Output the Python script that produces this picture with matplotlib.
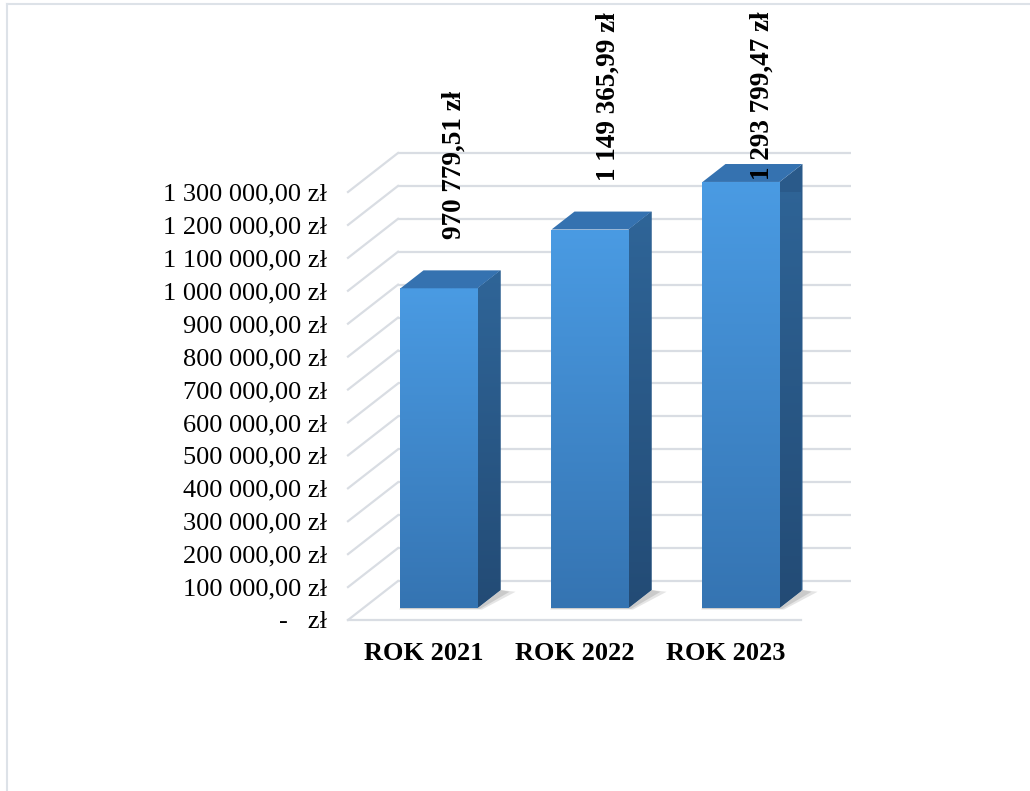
import matplotlib
matplotlib.use("Agg")
import matplotlib.pyplot as plt
import numpy as np
from matplotlib.patches import Polygon
from matplotlib.lines import Line2D
from matplotlib.colors import LinearSegmentedColormap

# ---- data ----
categories = ["ROK 2021", "ROK 2022", "ROK 2023"]
values = [970779.51, 1149365.99, 1293799.47]
y_ticks = list(range(0, 1300001, 100000))

# ---- style ----
W, H = 1030, 791
FONT = "Liberation Serif"
GRID = "#D9DDE3"
TOP_C = "#3572B0"
front_cmap = LinearSegmentedColormap.from_list("front", ["#3574B2", "#4A9BE3"])
side_cmap = LinearSegmentedColormap.from_list("side", ["#234B75", "#2F6598"])


def fmt_pl(v, dec=2):
    s = f"{v:,.{dec}f}"
    s = s.replace(",", " ").replace(".", ",")
    return s + " zł"


def tick_fmt(v, pos=None):
    if abs(v) < 1e-6:
        return "-   zł"
    return fmt_pl(v)


fig = plt.figure(figsize=(W / 100, H / 100), dpi=100)
fig.patch.set_facecolor("white")

# axes located on the front plane of the pseudo-3D chart (pixels)
px_left, px_right, px_bottom, px_top = 348, 801, 620, 192
ax = fig.add_axes([px_left / W, (H - px_bottom) / H,
                   (px_right - px_left) / W, (px_bottom - px_top) / H])
ncat = len(categories)
ymax = y_ticks[-1]
ax.set_xlim(0, ncat)
ax.set_ylim(0, ymax)
for s in ax.spines.values():
    s.set_visible(False)
ax.set_facecolor("none")

# depth vector in data units
px_per_x = (px_right - px_left) / ncat
px_per_y = (px_bottom - px_top) / ymax
DX = 50 / px_per_x
DY = 39 / px_per_y

# ---- walls / gridlines ----
for t in y_ticks:
    ax.plot([DX, ncat + DX], [t + DY, t + DY], color=GRID, lw=1.6,
            zorder=1, clip_on=False, solid_capstyle="butt")
    ax.plot([0, DX], [t, t + DY], color=GRID, lw=1.6, zorder=1,
            clip_on=False)
ax.plot([0, ncat], [0, 0], color=GRID, lw=1.6, zorder=1, clip_on=False)

# ---- bars ----
f1, f2 = 0.31, 0.77
bw = 0.51
ddx = (f2 - f1) * DX
ddy = (f2 - f1) * DY
xs = np.arange(ncat) + 0.5 + f1 * DX
base = f1 * DY

bars = ax.bar(xs, values, width=bw, bottom=base, color="#4189CF",
              zorder=3, clip_on=False, linewidth=0)

grad = np.linspace(0, 1, 256).reshape(-1, 1)
for b, x, v in zip(bars, xs, values):
    xl, xr = x - bw / 2, x + bw / 2
    top = base + v
    # soft shadow on the floor
    for k, a in [(1.0, 0.25), (0.6, 0.35)]:
        sh = Polygon([(xl - 0.01 * k, base - 5000 * k), (xr + 0.03 * k, base - 5000 * k),
                      (xr + ddx + 0.1 * k, base + ddy * 0.9),
                      (xr + ddx, base + ddy), (xr, base), (xl, base)],
                     closed=True, facecolor="#9A9A9A", edgecolor="none",
                     alpha=a, zorder=2, clip_on=False)
        ax.add_patch(sh)
    im = ax.imshow(grad, cmap=front_cmap, origin="lower", aspect="auto",
                   extent=(xl, xr, base, top), zorder=3.1)
    im.set_clip_path(b)
    side = Polygon([(xr, base), (xr + ddx, base + ddy),
                    (xr + ddx, top + ddy), (xr, top)], closed=True,
                   facecolor="#2A5A8A", edgecolor="none", zorder=3,
                   clip_on=False)
    ax.add_patch(side)
    ims = ax.imshow(grad, cmap=side_cmap, origin="lower", aspect="auto",
                    extent=(xr, xr + ddx, base, top + ddy), zorder=3.1)
    ims.set_clip_path(side)
    topf = Polygon([(xl, top), (xr, top), (xr + ddx, top + ddy),
                    (xl + ddx, top + ddy)], closed=True,
                   facecolor=TOP_C, edgecolor="none", zorder=3.2,
                   clip_on=False)
    ax.add_patch(topf)

ax.set_xlim(0, ncat)
ax.set_ylim(0, ymax)

# ---- value labels ----
lab_off = 185000
lab_cap = 1335000
for i, v in enumerate(values):
    ax.text(i + 0.5 + 0.2 + 0.02 * i, min(v + lab_off, lab_cap), fmt_pl(v),
            rotation=90, ha="center", va="bottom", fontsize=19.5,
            fontweight="bold", family=FONT, zorder=5, clip_on=False)

# ---- axes ticks ----
ax.set_xticks(np.arange(ncat) + 0.5)
ax.set_xticklabels(categories, fontsize=19, fontweight="bold", family=FONT)
ax.set_yticks(y_ticks)
ax.yaxis.set_major_formatter(plt.FuncFormatter(tick_fmt))
for lbl in ax.get_yticklabels():
    lbl.set_family(FONT)
    lbl.set_fontsize(19)
ax.tick_params(axis="y", length=0, pad=15)
ax.tick_params(axis="x", length=0, pad=15.5)

# ---- chart border ----
bc = "#DDE2E8"
fig.add_artist(Line2D([6.5 / W, 6.5 / W], [0, 1 - 3.5 / H], color=bc,
                      lw=1.5, transform=fig.transFigure))
fig.add_artist(Line2D([6.5 / W, 1], [1 - 3.5 / H, 1 - 3.5 / H], color=bc,
                      lw=1.5, transform=fig.transFigure))

fig.savefig("out.png", dpi=100, facecolor="white")
